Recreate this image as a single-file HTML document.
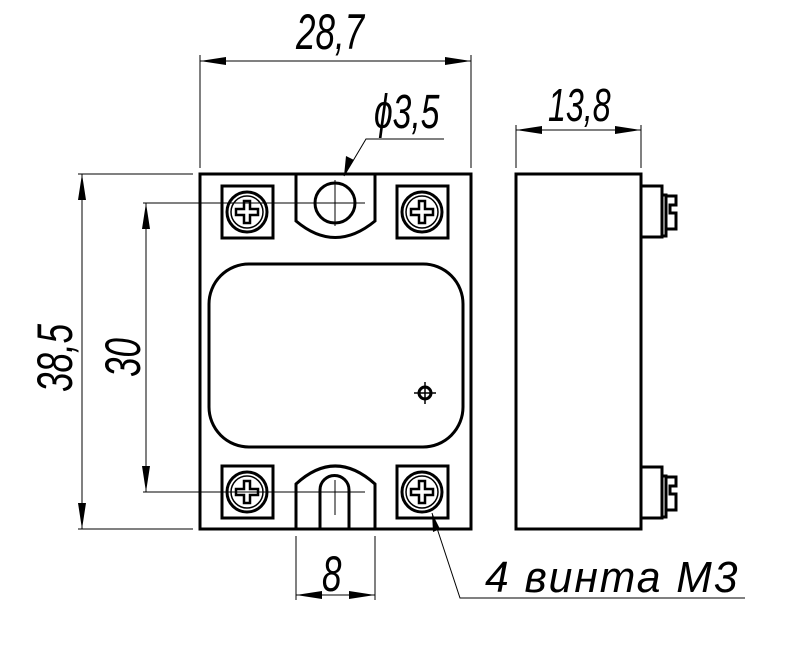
<!DOCTYPE html>
<html><head><style>body{margin:0;background:#fff}svg{display:block}
text{font-family:"Liberation Sans","DejaVu Sans",sans-serif;font-style:italic;fill:#000}</style></head>
<body>
<svg width="800" height="672" viewBox="0 0 800 672" xmlns="http://www.w3.org/2000/svg">
<defs>
<g id="screw">
<rect x="-25" y="-26" width="51" height="52" fill="none" stroke="#000" stroke-width="3"/>
<circle r="20" fill="none" stroke="#000" stroke-width="3"/>
<circle r="16" fill="none" stroke="#000" stroke-width="1.5"/>
<path d="M-3,-11 H3 V-3 H11 V3 H3 V11 H-3 V3 H-11 V-3 H-3 Z" fill="none" stroke="#000" stroke-width="2.5"/>
</g>
<g id="tab">
<path d="M641,0 H662 V51 H641" fill="none" stroke="#000" stroke-width="3"/>
<path d="M662,9 H666 V50 H662" fill="none" stroke="#000" stroke-width="3"/>
<path d="M666,10 H676 V19 H670 V27 H676 V43 H666" fill="none" stroke="#000" stroke-width="3"/>
</g>
</defs>
<g stroke="#000" fill="none">
<rect x="200" y="174" width="271" height="355" stroke-width="3"/>
<path d="M296,174 V221 Q335,254 375,221 V174" stroke-width="3"/>
<circle cx="335" cy="203" r="20" stroke-width="3"/>
<path d="M296,529 V484 Q335,448 375,484 V529" stroke-width="3"/>
<path d="M320,529 V490 A14.5,14.5 0 0 1 349,490 V529" stroke-width="3"/>
<rect x="209" y="264" width="254" height="183" rx="40" stroke-width="3"/>
<circle cx="425" cy="393" r="6" stroke-width="3"/>
<path d="M414,393 H436 M425,382 V404" stroke-width="1.5"/>
<rect x="516" y="174" width="125" height="355" stroke-width="3"/>
</g>
<use href="#screw" x="247" y="212"/>
<use href="#screw" x="422" y="212"/>
<use href="#screw" x="247" y="492"/>
<use href="#screw" x="422" y="492"/>
<use href="#tab" x="0" y="186"/>
<use href="#tab" x="0" y="467"/>
<g stroke="#000" stroke-width="1" fill="none">
<path d="M143,203 H365 M143,492 H365 M335,180 V226 M335,480 V515"/>
<path d="M200,55 V168 M471,55 V168 M200,61 H471"/>
<path d="M516,125 V168 M641,125 V168 M516,130 H641"/>
<path d="M78,174 H193 M78,529 H193 M82,174 V529"/>
<path d="M146,203 V492"/>
<path d="M296,536 V600 M375,536 V600 M296,595 H375"/>
<path d="M344,176 L366,139 H444"/>
<path d="M432,513 L460,598 H745"/>
</g>
<g fill="#000">
<path d="M200,61 l26,-4 v8z M471,61 l-26,-4 v8z"/>
<path d="M516,130 l26,-4 v8z M641,130 l-26,-4 v8z"/>
<path d="M82,174 l-4,26 h8z M82,529 l-4,-26 h8z"/>
<path d="M146,203 l-4,26 h8z M146,492 l-4,-26 h8z"/>
<path d="M296,595 l26,-4 v8z M375,595 l-26,-4 v8z"/>
<path d="M344,176 l2,-20 l8,4z"/>
<path d="M432,513 l1,19 l7,-3z"/>
</g>
<text transform="translate(296,49) scale(0.7,1)" font-size="50">28,7</text>
<text transform="translate(374,128) scale(0.7,1)" font-size="48">ϕ3,5</text>
<text transform="translate(548,121) scale(0.7,1)" font-size="46">13,8</text>
<text transform="translate(72,392) rotate(-90) scale(0.7,1)" font-size="50">38,5</text>
<text transform="translate(140,377) rotate(-90) scale(0.7,1)" font-size="50">30</text>
<text transform="translate(322,591) scale(0.7,1)" font-size="50">8</text>
<text transform="translate(485,592) scale(0.97,1)" font-size="44" letter-spacing="2">4 винта М3</text>
</svg>
</body></html>
